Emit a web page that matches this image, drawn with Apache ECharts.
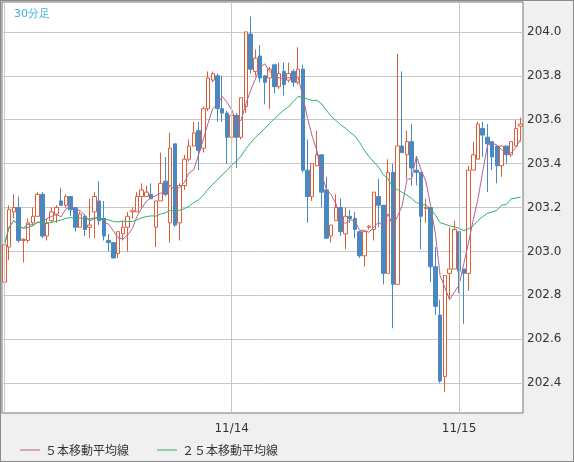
<!DOCTYPE html>
<html>
<head>
<meta charset="utf-8">
<script src="https://cdn.jsdelivr.net/npm/echarts@6/dist/echarts.min.js"></script>
<style>
  html, body { margin: 0; padding: 0; background: #f0f0f0; }
  #chart { width: 574px; height: 462px; box-sizing: border-box; border: 1px solid #888; }
</style>
</head>
<body>
<div id="chart"></div>
<script>
// 30-minute candles: [open, close, low, high]
var candles = [
  [202.86,203.03,202.85,203.06],[203.02,203.19,202.96,203.21],[203.18,203.20,203.15,203.26],[203.20,203.05,203.04,203.25],
  [203.05,203.055,202.95,203.06],[203.05,203.13,203.04,203.15],[203.13,203.16,203.12,203.20],[203.16,203.26,203.16,203.27],
  [203.26,203.07,203.06,203.27],[203.07,203.13,203.05,203.15],[203.14,203.18,203.13,203.20],[203.17,203.20,203.13,203.21],
  [203.23,203.21,203.21,203.29],[203.21,203.25,203.20,203.26],[203.25,203.19,203.16,203.25],[203.20,203.11,203.09,203.20],
  [203.11,203.17,203.11,203.18],[203.16,203.10,203.07,203.17],[203.11,203.12,203.06,203.24],[203.18,203.25,203.06,203.27],
  [203.23,203.14,203.12,203.32],[203.15,203.07,203.05,203.23],[203.05,203.04,203.00,203.08],[203.04,202.97,202.97,203.04],
  [202.99,203.09,202.97,203.09],[203.08,203.11,203.05,203.14],[203.11,203.16,203.00,203.18],[203.18,203.185,203.15,203.20],
  [203.18,203.25,203.18,203.27],[203.25,203.28,203.20,203.31],[203.25,203.27,203.25,203.30],[203.26,203.24,203.24,203.31],
  [203.11,203.23,203.02,203.23],[203.23,203.31,203.23,203.45],[203.32,203.26,203.25,203.43],[203.13,203.47,203.04,203.54],
  [203.49,203.12,203.11,203.49],[203.13,203.30,203.05,203.31],[203.30,203.42,203.28,203.44],[203.42,203.48,203.41,203.51],
  [203.48,203.54,203.48,203.59],[203.55,203.46,203.37,203.59],[203.47,203.65,203.45,203.66],[203.65,203.79,203.64,203.82],
  [203.78,203.81,203.77,203.82],[203.80,203.65,203.59,203.81],[203.65,203.63,203.59,203.80],[203.63,203.52,203.40,203.64],
  [203.52,203.62,203.37,203.63],[203.62,203.52,203.38,203.63],[203.52,203.70,203.51,203.70],[203.66,204.00,203.63,204.00],
  [203.99,203.83,203.81,204.07],[203.82,203.88,203.80,203.92],[203.89,203.79,203.77,203.94],[203.80,203.77,203.67,203.80],
  [203.79,203.83,203.65,203.84],[203.85,203.75,203.72,203.85],[203.75,203.81,203.74,203.86],[203.82,203.76,203.71,203.86],
  [203.78,203.81,203.77,203.86],[203.82,203.77,203.75,203.83],[203.77,203.83,203.76,203.93],[203.83,203.37,203.36,203.85],
  [203.37,203.25,203.13,203.51],[203.25,203.40,203.23,203.40],[203.39,203.44,203.39,203.55],[203.44,203.27,203.20,203.44],
  [203.28,203.06,203.06,203.34],[203.07,203.12,203.04,203.12],[203.14,203.20,203.14,203.26],[203.20,203.09,203.07,203.24],
  [203.08,203.16,203.01,203.20],[203.16,203.15,203.13,203.19],[203.15,203.10,203.06,203.18],[203.09,202.98,202.97,203.09],
  [202.98,203.09,202.93,203.09],[203.11,203.115,203.10,203.12],[203.10,203.27,203.05,203.27],[203.25,203.21,203.11,203.33],
  [203.21,202.90,202.85,203.21],[202.90,203.36,202.90,203.42],[203.36,202.85,202.65,203.40],[202.85,203.48,202.85,203.90],
  [203.48,203.45,203.45,203.82],[203.44,203.50,203.33,203.55],[203.50,203.38,203.30,203.58],[203.37,203.36,203.30,203.43],
  [203.36,203.16,203.01,203.36],[203.195,203.20,203.13,203.24],[203.20,202.93,202.86,203.20],[202.93,202.75,202.71,203.02],
  [202.71,202.41,202.40,202.78],[202.43,202.89,202.36,202.89],[202.90,202.92,202.78,203.11],[202.92,203.10,202.92,203.14],
  [203.09,202.91,202.81,203.09],[202.92,202.90,202.67,202.92],[202.90,203.37,202.82,203.39],[203.37,203.44,203.37,203.50],
  [203.42,203.58,203.42,203.59],[203.56,203.53,203.43,203.59],[203.52,203.49,203.27,203.58],[203.50,203.43,203.37,203.50],
  [203.48,203.39,203.31,203.48],[203.39,203.48,203.34,203.48],[203.48,203.44,203.40,203.48],[203.44,203.50,203.43,203.50],
  [203.48,203.56,203.48,203.60],[203.57,203.58,203.50,203.61]
];
var dayIndex = [0, 48, 96];
var dayLabels = ['', '11/14', '11/15'];
var priceTicks = [202.4, 202.6, 202.8, 203.0, 203.2, 203.4, 203.6, 203.8, 204.0];

var categories = candles.map(function (d, i) { return String(i); });

function movingAvg(n) {
  var out = [];
  for (var i = 0; i < candles.length; i++) {
    var s = 0, c = 0;
    for (var j = Math.max(0, i - n + 1); j <= i; j++) { s += candles[j][1]; c++; }
    out.push(+(s / c).toFixed(4));
  }
  return out;
}

var chart = echarts.init(document.getElementById('chart'));
chart.setOption({
  animation: false,
  backgroundColor: '#f0f0f0',
  textStyle: { fontFamily: 'DejaVu Sans, sans-serif' },
  title: {
    text: '30分足', left: 8, top: 3,
    textStyle: { color: '#3fb0ea', fontSize: 11, fontWeight: 'normal' }
  },
  legend: {
    left: 14, top: 438, itemWidth: 20, itemHeight: 1, itemGap: 28,
    icon: 'rect',
    textStyle: { color: '#333', fontSize: 12, fontFamily: 'Noto Sans CJK JP' },
    data: ['５本移動平均線', '２５本移動平均線']
  },
  grid: {
    left: 1, top: 1, right: 50, bottom: 48, show: true,
    backgroundColor: '#fff', borderColor: '#777', borderWidth: 1
  },
  xAxis: {
    type: 'category', data: categories, boundaryGap: true,
    axisLine: { show: false }, axisTick: { show: false }, splitLine: { show: false },
    axisLabel: {
      color: '#333', fontSize: 12, margin: 10,
      interval: function (i) { return dayIndex.indexOf(i) > 0; },
      formatter: function (v, i) { var k = dayIndex.indexOf(i); return k > 0 ? dayLabels[k] : ''; }
    }
  },
  yAxis: {
    type: 'value', position: 'right', min: 202.264, max: 204.136, scale: true,
    axisLine: { show: false },
    axisTick: { show: false, customValues: priceTicks },
    axisLabel: { color: '#333', fontSize: 12, margin: 4, customValues: priceTicks, formatter: function (v) { return v.toFixed(1); } },
    splitLine: { show: true, lineStyle: { color: '#c8c8c8', width: 1 } }
  },
  series: [
    {
      type: 'candlestick', data: candles, barWidth: 4,
      itemStyle: { color: '#ffffff', color0: '#4a88c2', borderColor: '#dd5f3a', borderColor0: '#4a88c2', borderWidth: 1 },
      markLine: {
        silent: true, symbol: 'none', label: { show: false },
        lineStyle: { color: '#c8c8c8', type: 'solid', width: 1 },
        data: dayIndex.map(function (i) { return { xAxis: String(i) }; })
      }
    },
    { name: '５本移動平均線', type: 'line', data: movingAvg(5), symbol: 'none', smooth: false,
      lineStyle: { color: '#b5628f', width: 1 }, itemStyle: { color: '#b5628f' } },
    { name: '２５本移動平均線', type: 'line', data: movingAvg(25), symbol: 'none',
      lineStyle: { color: '#2bb36b', width: 1 }, itemStyle: { color: '#2bb36b' } }
  ]
});
</script>
</body>
</html>
